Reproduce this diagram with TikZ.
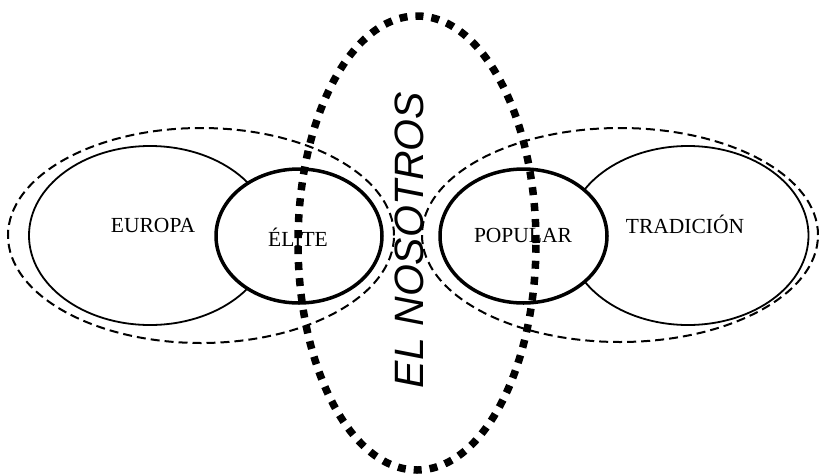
\documentclass[tikz,border=0pt]{standalone}
\usepackage{fontspec}
\setmainfont{Liberation Serif}
\newfontfamily\nosfont{Liberation Sans}
\usetikzlibrary{shapes.geometric}
\begin{document}
\begin{tikzpicture}[x=1pt,y=-1pt,
  oval/.style={ellipse,draw=black,inner sep=0pt,outer sep=0pt},
  thinoval/.style={oval,line width=1.8pt},
  thickoval/.style={oval,line width=3.5pt,fill=white},
  dashoval/.style={oval,line width=2pt,dash pattern=on 9pt off 5pt},
  dotoval/.style={oval,line width=7.5pt,dash pattern=on 8pt off 8pt},
  lab/.style={font=\fontsize{21.5}{25}\selectfont,inner sep=0pt}]
\useasboundingbox (0,0) rectangle (819,474);
% ellipses
\node[thinoval,minimum width=242pt,minimum height=179pt] (europa) at (150,235.5) {};
\node[thinoval,minimum width=241pt,minimum height=179pt] (tradicion) at (688,235.5) {};
\node[thickoval,minimum width=166pt,minimum height=134pt] (elite) at (299,236) {};
\node[thickoval,minimum width=167pt,minimum height=134pt] (popular) at (523.5,236) {};
% labels
\node[lab] (teu) at (153,225) {EUROPA};
\node[lab] (tel) at (298,237) {ÉLITE};
\node[lab] (tpo) at (523,235) {POPULAR};
\node[lab] (ttr) at (685,224) {TRADICIÓN};
\node[font=\nosfont\itshape\fontsize{41}{46}\selectfont,rotate=90,anchor=base,inner sep=0pt] (tnos) at (423,240) {EL NOSOTROS};
% outer ellipses
\node[dashoval,minimum width=386pt,minimum height=215pt] (ldash) at (201,235.5) {};
\node[dashoval,minimum width=396pt,minimum height=214pt] (rdash) at (620,235) {};
\node[dotoval,minimum width=238pt,minimum height=454pt] (nosotros) at (417,243) {};
\end{tikzpicture}
\end{document}
